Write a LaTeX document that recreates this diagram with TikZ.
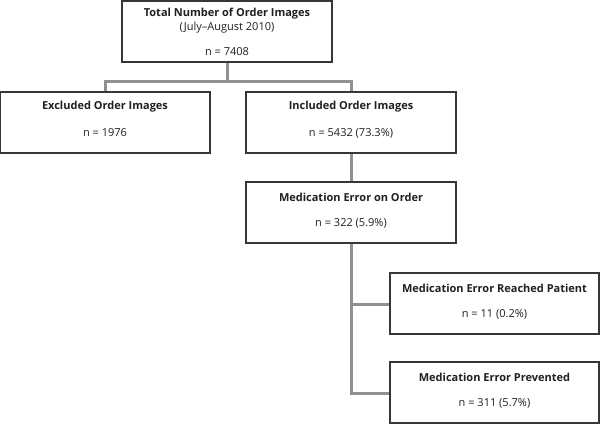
\documentclass[tikz,border=0pt]{standalone}
\usepackage{fontspec}
\setmainfont{Open Sans}
\definecolor{txt}{RGB}{35,31,32}
\definecolor{edge}{RGB}{55,55,55}
\definecolor{conn}{RGB}{145,145,145}
\begin{document}
\begin{tikzpicture}[x=1pt,y=-1pt,
  box/.style={draw=edge,line width=1.2pt,fill=white,minimum width=210pt,minimum height=61pt,inner sep=0pt},
  ttl/.style={font=\fontsize{11}{13}\selectfont\bfseries,text=txt,inner sep=0pt},
  val/.style={font=\fontsize{11}{13}\selectfont,text=txt,inner sep=0pt},
  conn/.style={draw=conn,line width=3pt}]
\useasboundingbox (0,0) rectangle (600,424);
\coordinate (j1) at (227,81);
% connectors
\draw[conn] (227,62) -- (j1);
\draw[conn] (105,92) |- (j1) -| (351,92);
\draw[conn] (351,153) -- (351,182);
\draw[conn] (351,243) |- (390,304);
\draw[conn] (351,243) |- (390,393);
% boxes
\node[box,minimum height=61pt] (top) at (227,31.5) {};
\node[ttl] (topT) at (227,14) {Total Number of Order Images};
\node[val] (topS) at (227,28) {(July--August 2010)};
\node[val] (topN) at (227,52) {n = 7408};

\node[box] (exc) at (105,122.5) {};
\node[ttl] (excT) at (105,107) {Excluded Order Images};
\node[val] (excN) at (105,133) {n = 1976};

\node[box] (inc) at (351,122.5) {};
\node[ttl] (incT) at (351,107) {Included Order Images};
\node[val] (incN) at (351,133) {n = 5432 (73.3\%)};

\node[box] (med) at (351,212.5) {};
\node[ttl] (medT) at (351,197) {Medication Error on Order};
\node[val] (medN) at (351,223) {n = 322 (5.9\%)};

\node[box,minimum width=209pt] (pat) at (494.5,303.5) {};
\node[ttl] (patT) at (494.5,288) {Medication Error Reached Patient};
\node[val] (patN) at (494.5,314) {n = 11 (0.2\%)};

\node[box,minimum width=209pt] (prev) at (494.5,392.5) {};
\node[ttl] (prevT) at (494.5,377) {Medication Error Prevented};
\node[val] (prevN) at (494.5,403) {n = 311 (5.7\%)};
\end{tikzpicture}
\end{document}
